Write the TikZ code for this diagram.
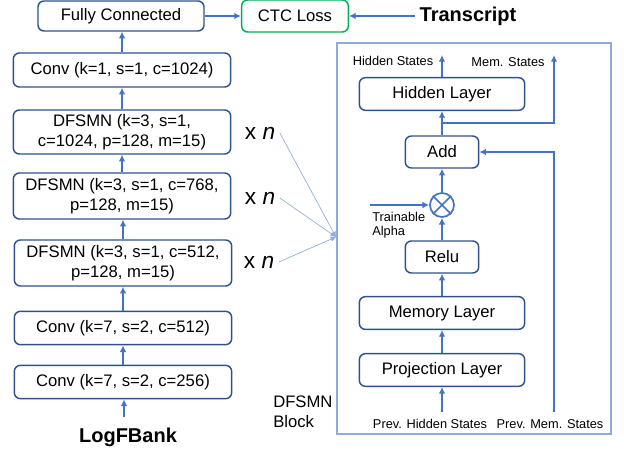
\documentclass[tikz,border=0pt]{standalone}
\usepackage{fontspec}
\setmainfont{Liberation Sans}
\usepackage{tikz}
\usetikzlibrary{positioning,calc,arrows.meta}
\definecolor{BoxBlue}{RGB}{47,82,143}
\definecolor{LineBlue}{RGB}{68,114,196}
\definecolor{PaleBlue}{RGB}{143,170,220}
\definecolor{LossGreen}{RGB}{0,176,80}
\tikzset{
    layerbox/.style={rectangle, rounded corners=4.5pt, draw=BoxBlue, line width=1.1pt, fill=white, align=center, inner sep=0pt, font=\fontsize{12.5}{15}\selectfont},
    flow/.style={draw=LineBlue, line width=1.4pt, -{Latex[length=5pt,width=5pt]}},
    smalltext/.style={inner sep=0pt, font=\fontsize{9.6}{10.5}\selectfont}
}

\begin{document}
\begin{tikzpicture}[
                x=0.75pt, y=-0.75pt,
                % Cot ben trai
                stackbox/.style={layerbox, minimum width=163pt},
                % Cot ben phai (trong khoi DFSMN)
                wideblock/.style={layerbox, minimum width=124pt, minimum height=24.5pt},
                smallblock/.style={layerbox, minimum width=55pt, minimum height=24pt},
                repeat/.style={font=\fontsize{17}{20}\selectfont},
                biglabel/.style={font=\bfseries\fontsize{15}{18}\selectfont},
                pointer/.style={draw=PaleBlue, line width=0.5pt, -{Latex[length=4pt,width=4pt]}}
            ]
                \useasboundingbox (0,0) rectangle (624,452);

                % --- COT TRAI ---
                \node[layerbox, minimum width=124.5pt, minimum height=22.5pt] (fc) at (121,16) {Fully Connected};
                \node[stackbox, minimum height=25.5pt] (conv1) at (122,70) {Conv (k=1, s=1, c=1024)};
                \node[stackbox, minimum height=33pt] (dfsmn1) at (122,132) {DFSMN (k=3, s=1,\\c=1024, p=128, m=15)};
                \node[stackbox, minimum height=34.5pt] (dfsmn2) at (122,196) {DFSMN (k=3, s=1, c=768,\\p=128, m=15)};
                \node[stackbox, minimum height=34.5pt] (dfsmn3) at (123,263) {DFSMN (k=3, s=1, c=512,\\p=128, m=15)};
                \node[stackbox, minimum height=25pt] (conv512) at (123,328) {Conv (k=7, s=2, c=512)};
                \node[stackbox, minimum height=25pt] (conv256) at (123,382) {Conv (k=7, s=2, c=256)};
                \node[biglabel] (logf) at (128,437) {LogFBank};

                % Loss
                \node[layerbox, draw=LossGreen, minimum width=80pt, minimum height=24pt] (ctc) at (295,16) {CTC Loss};
                \node[biglabel] (trans) at (468,16) {Transcript};

                % x n
                \node[repeat] (rep1) at (260,133) {x \textit{n}};
                \node[repeat] (rep2) at (260,198) {x \textit{n}};
                \node[repeat] (rep3) at (259,262) {x \textit{n}};

                \draw[flow] (logf.north) ++(-4,-6) coordinate (inp) -- (inp |- conv256.south);
                \draw[flow] (conv256.north) -- (conv512.south);
                \draw[flow] (conv512.north) -- (dfsmn3.south);
                \draw[flow] (dfsmn3.north) -- (dfsmn3.north |- dfsmn2.south);
                \draw[flow] (dfsmn2.north) -- (dfsmn1.south);
                \draw[flow] (dfsmn1.north) -- (conv1.south);
                \draw[flow] (conv1.north) -- (conv1.north |- fc.south);
                \draw[flow] (fc.east) -- (ctc.west);
                \draw[flow] (trans.west) -- (ctc.east);

                % --- KHOI DFSMN ---
                \draw[PaleBlue, line width=0.9pt] (337,43) rectangle (611,434);
                \node[anchor=north west, align=left, inner sep=0pt, font=\fontsize{12.5}{15}\selectfont] (blocklab) at (273,396) {DFSMN\\Block};

                \node[wideblock] (hid) at (442,94) {Hidden Layer};
                \node[smallblock] (add) at (442,152) {Add};
                \node[circle, draw=LineBlue, line width=1.3pt, minimum size=18pt, inner sep=0pt] (mult) at (442,205) {};
                \draw[LineBlue, line width=1.3pt] (mult.north west) -- (mult.south east)
                                                  (mult.north east) -- (mult.south west);
                \node[smallblock] (relu) at (442,257) {Relu};
                \node[wideblock] (mem) at (442,313) {Memory Layer};
                \node[wideblock] (proj) at (442,370) {Projection Layer};

                \node[smalltext] (hslab) at (393,61) {Hidden States};
                \node[smalltext] (mslab) at (508,62) {Mem. States};
                \node[smalltext, anchor=north west, align=left] (alpha) at (372,212) {Trainable\\Alpha};
                \node[smalltext] (prevh) at (430,424) {Prev. Hidden States};
                \node[smalltext] (prevm) at (550,424) {Prev. Mem. States};

                \coordinate (hsTop) at (442,55);
                \coordinate (msTop) at (554,55);
                \coordinate (split) at (442,123);
                \coordinate (phBot) at (442,412);
                \coordinate (pmBot) at (554,412);
                \coordinate (alphaIn) at (370,205);
                \coordinate (tip) at (336,237);

                \draw[flow] (hid.north) -- (hsTop);
                \draw[flow] (add.north) -- (hid.south);
                \draw[flow] (split) -| (msTop);
                \draw[flow] (mult.north) -- (add.south);
                \draw[flow] (relu.north) -- (mult.south);
                \draw[flow] (mem.north) -- (relu.south);
                \draw[flow] (proj.north) -- (mem.south);
                \draw[flow] (phBot) -- (proj.south);
                \draw[flow] (pmBot) |- (add.east);
                \draw[flow] (alphaIn) -- (mult.west);

                % x n -> khoi
                \draw[pointer] (rep1.east) -- (tip);
                \draw[pointer] (rep2.east) -- (tip);
                \draw[pointer] (rep3.east) -- (tip);

            \end{tikzpicture}
\end{document}
